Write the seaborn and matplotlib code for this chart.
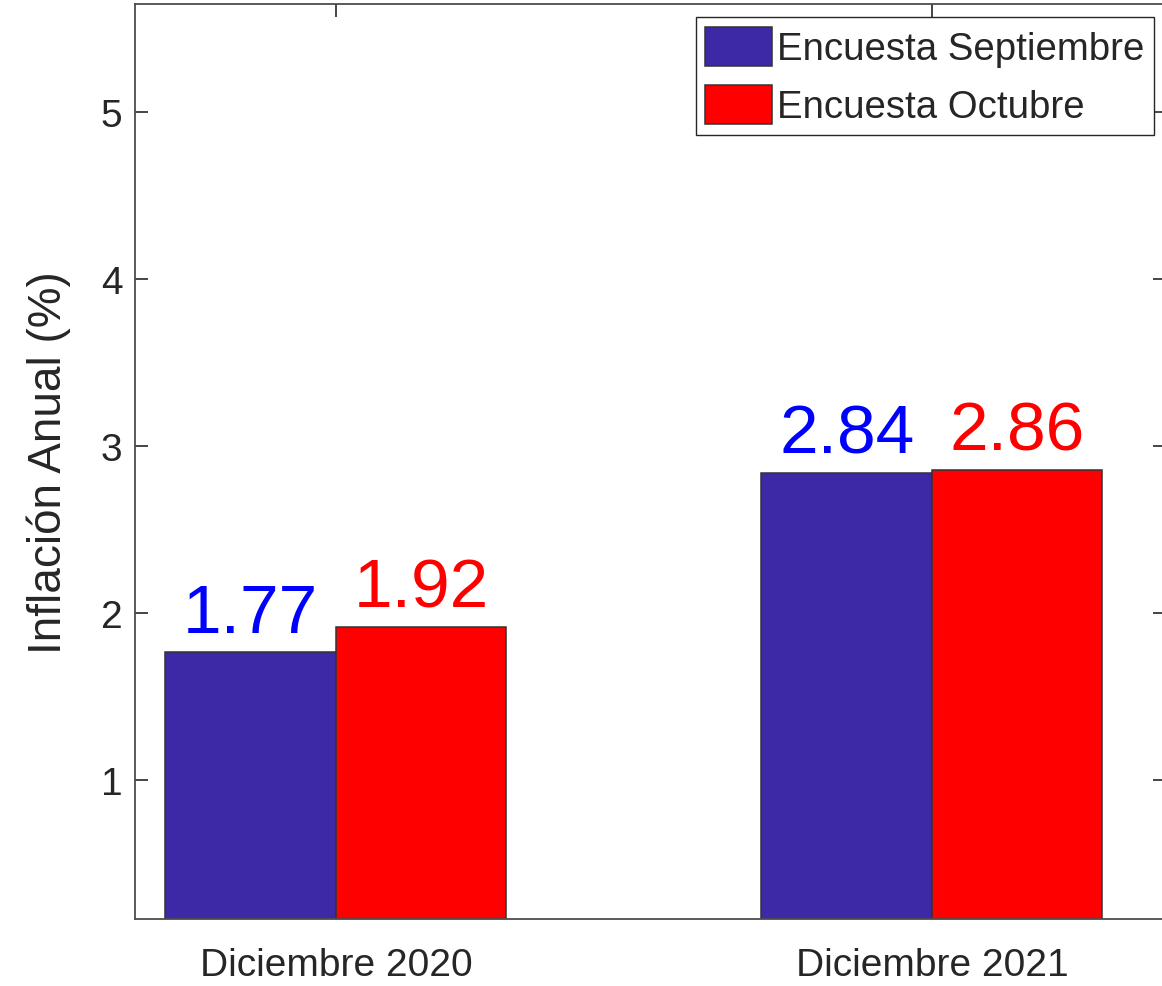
import matplotlib
matplotlib.use("Agg")
import matplotlib.pyplot as plt
import seaborn as sns
import pandas as pd

categories = ["Diciembre 2020", "Diciembre 2021"]
series_names = ["Encuesta Septiembre", "Encuesta Octubre"]
sept_values = [1.77, 2.84]
oct_values = [1.92, 2.86]
value_labels = [["1.77", "2.84"], ["1.92", "2.86"]]
y_ticks = [1, 2, 3, 4, 5]

bar_colors = ["#3D28A6", "#FF0000"]
label_colors = ["#0000FF", "#FF0000"]

df = pd.DataFrame({
    "Fecha": categories * 2,
    "Encuesta": [series_names[0]] * 2 + [series_names[1]] * 2,
    "Valor": sept_values + oct_values,
})

sns.set_style("white")
plt.rcParams["font.family"] = ["Liberation Sans", "DejaVu Sans"]

fig = plt.figure(figsize=(11.62, 9.87), dpi=100)
W, H = 1162, 987
ax = fig.add_axes([135 / W, (H - 920) / H, (1165 - 135) / W, (920 - 4.5) / H])

sns.barplot(data=df, x="Fecha", y="Valor", hue="Encuesta", order=categories,
            hue_order=series_names, palette=bar_colors, width=0.572,
            edgecolor="#333333", linewidth=1.1, saturation=1, ax=ax, errorbar=None)

for i, cont in enumerate(ax.containers):
    for j, bar in enumerate(cont):
        x = bar.get_x() + bar.get_width() / 2
        v = bar.get_height()
        ax.annotate(value_labels[i][j], xy=(x, v), xytext=(0, 14.4),
                    textcoords="offset points", ha="center", va="baseline",
                    fontsize=50, color=label_colors[i])

ax.set_xlim(-0.337, 1.391)
ax.set_ylim(0.17, 5.65)
ax.set_yticks(y_ticks)
ax.set_yticklabels([str(t) for t in y_ticks])
ax.set_xlabel("")
ax.set_ylabel("Inflación Anual (%)", fontsize=33, color="#262626")
ax.yaxis.set_label_coords(-0.062, 0.5)

ax.tick_params(axis="both", direction="in", length=9, width=1.2, color="#262626",
               labelsize=28, labelcolor="#262626", top=True, right=True,
               bottom=True, left=True)
ax.tick_params(axis="y", pad=9)
ax.tick_params(axis="x", pad=20)

for s in ax.spines.values():
    s.set_visible(True)
    s.set_color("#4d4d4d")
    s.set_linewidth(1.3)

handles, labels = ax.get_legend_handles_labels()
leg = ax.legend(handles, labels, loc="upper right", bbox_to_anchor=(0.9893, 0.9853),
                fontsize=27.6, frameon=True, fancybox=False, framealpha=1,
                edgecolor="#262626", handlelength=1.75, handleheight=1.22,
                handletextpad=0.12, labelspacing=0.45, borderpad=0.25,
                borderaxespad=0)
leg.get_frame().set_linewidth(1.0)
for h in leg.legend_handles:
    h.set_edgecolor("#333333")
    h.set_linewidth(1.1)

fig.savefig("out.png", dpi=100)
